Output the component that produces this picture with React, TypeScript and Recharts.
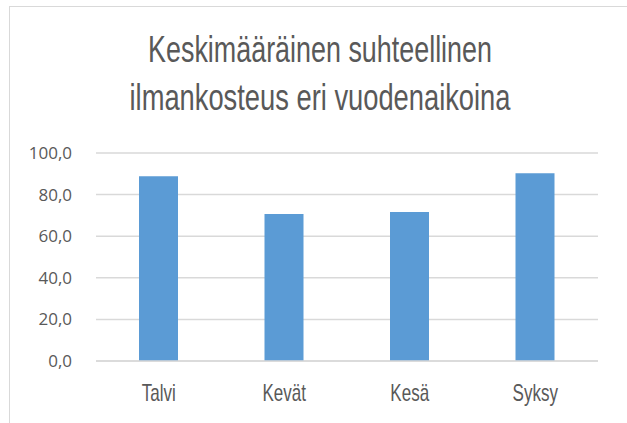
import { Bar, BarChart, CartesianGrid, XAxis, YAxis } from "recharts";

const seasons = ["Talvi", "Kevät", "Kesä", "Syksy"];
const humidity = [88.8, 70.7, 71.6, 90.3];
const yTicks = [0, 20, 40, 60, 80, 100];
const titleLines = ["Keskimääräinen suhteellinen", "ilmankosteus eri vuodenaikoina"];

const data = seasons.map((s, i) => ({ name: s, value: humidity[i] }));

const fmt = (v: number) => v.toFixed(1).replace(".", ",");

function SeasonTick(props: any) {
  const { x, y, payload } = props;
  return (
    <g transform={`translate(${x},${y}) scale(0.74,1)`}>
      <text x={0} y={0} dy={40} textAnchor="middle" fill="#595959" fontSize={23} fontFamily="'Liberation Sans', sans-serif">
        {payload.value}
      </text>
    </g>
  );
}

const titleStyle = (top: number, sx: number): React.CSSProperties => ({
  position: "absolute",
  left: 320,
  top,
  whiteSpace: "nowrap",
  fontFamily: "'Liberation Sans', sans-serif",
  fontSize: 37,
  lineHeight: "37px",
  color: "#595959",
  transform: `translateX(-50%) scaleX(${sx})`,
});

export default function App() {
  return (
    <div style={{ position: "fixed", left: 0, top: 0, width: 627, height: 423, background: "#fff", overflow: "hidden" }}>
      <div style={{ position: "absolute", left: 9, top: 6, width: 700, height: 500, border: "1px solid #d9d9d9", boxSizing: "border-box" }} />
      <div style={{ position: "absolute", left: 0, top: 0 }}>
        <BarChart width={627} height={423} data={data} margin={{ top: 153, right: 29, left: 0, bottom: 0 }} barSize={39}>
          <CartesianGrid vertical={false} stroke="#d9d9d9" strokeWidth={1.5} />
          <XAxis dataKey="name" height={62} axisLine={{ stroke: "#d9d9d9", strokeWidth: 1.5 }} tickLine={false} tickSize={0} tickMargin={0} tick={<SeasonTick />} />
          <YAxis
            width={96}
            domain={[0, 100]}
            ticks={yTicks}
            tickFormatter={fmt}
            axisLine={false}
            tickLine={false}
            tickSize={0}
            tickMargin={24}
            tick={{ fill: "#595959", fontSize: 17, fontFamily: "'Open Sans', sans-serif" }}
          />
          <Bar dataKey="value" fill="#5b9bd5" isAnimationActive={false} />
        </BarChart>
      </div>
      <div style={titleStyle(31, 0.727)}>{titleLines[0]}</div>
      <div style={titleStyle(79, 0.738)}>{titleLines[1]}</div>
    </div>
  );
}
